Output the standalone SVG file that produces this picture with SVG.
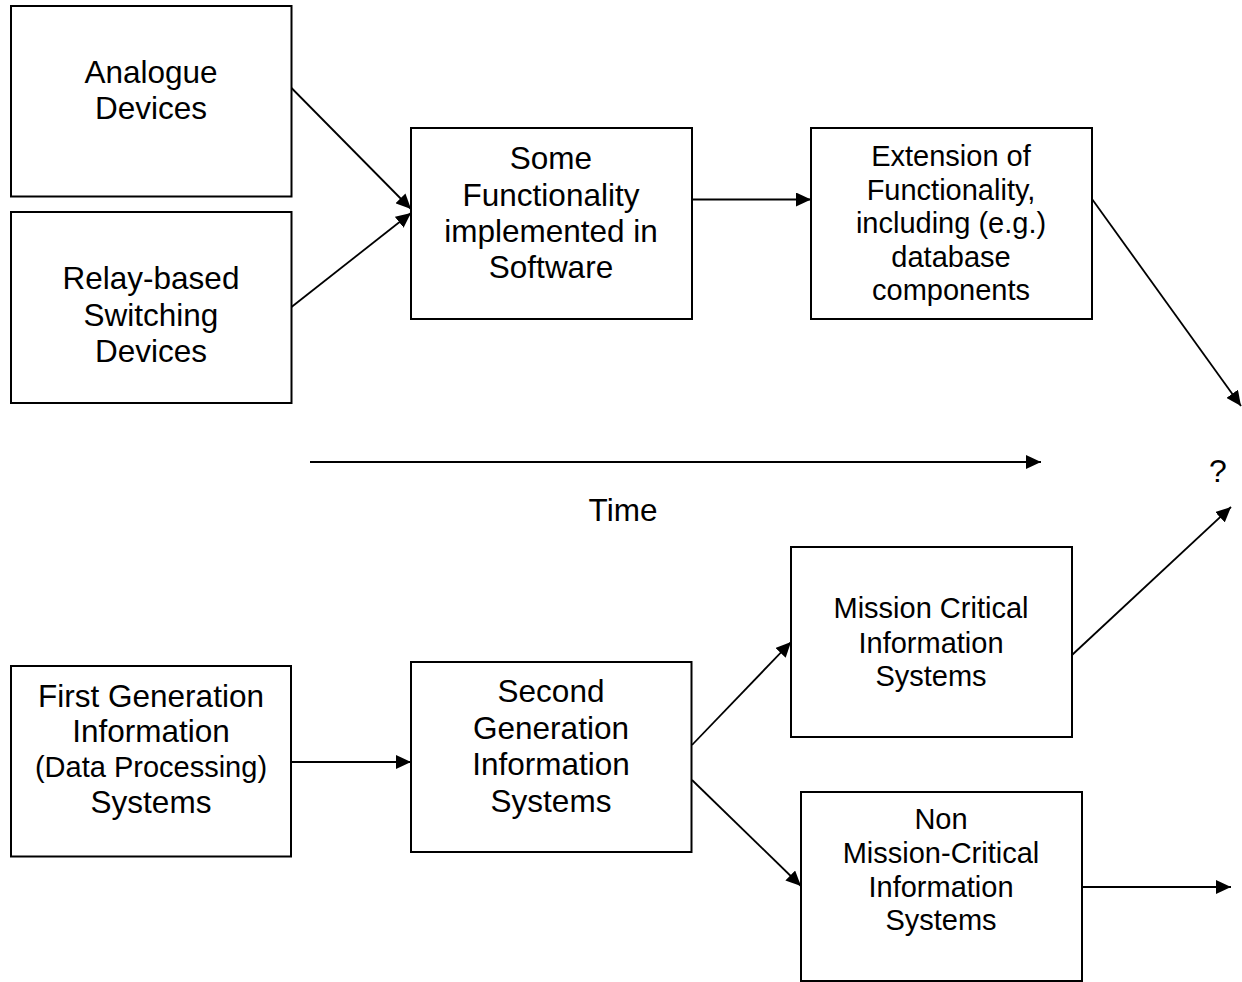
<svg xmlns="http://www.w3.org/2000/svg" width="1242" height="982" viewBox="0 0 1242 982">
<style>
.box{fill:#fff;stroke:#000;stroke-width:2}
.t{font-family:"Liberation Sans",Arial,sans-serif;font-size:31.5px;fill:#000;text-anchor:middle}
.s{font-size:29px}
.c{stroke:#000;stroke-width:1.8;fill:none;marker-end:url(#ah)}
</style>
<defs>
<marker id="ah" viewBox="0 0 15 14" refX="15" refY="7" markerWidth="15" markerHeight="14" markerUnits="userSpaceOnUse" orient="auto">
<path d="M0,0 L15,7 L0,14 z" fill="#000"/>
</marker>
</defs>
<rect width="1242" height="982" fill="#fff"/>
<g id="connectors">
<line class="c" x1="291.5" y1="88" x2="411" y2="209"/>
<line class="c" x1="291.5" y1="307" x2="411" y2="213"/>
<line class="c" x1="692" y1="199.5" x2="811" y2="199.5"/>
<line class="c" x1="1092" y1="199" x2="1241" y2="406"/>
<line class="c" x1="310" y1="462" x2="1041" y2="462"/>
<line class="c" x1="1072" y1="655" x2="1231" y2="507"/>
<line class="c" x1="692" y1="745" x2="791" y2="642"/>
<line class="c" x1="692" y1="780" x2="801" y2="886"/>
<line class="c" x1="291" y1="762" x2="411" y2="762"/>
<line class="c" x1="1082" y1="887" x2="1231" y2="887"/>
</g>
<g id="analogue">
<rect class="box" x="11" y="6" width="280.5" height="190.5"/>
<text class="t" x="151" y="83">Analogue</text>
<text class="t" x="151" y="119">Devices</text>
</g>
<g id="relay">
<rect class="box" x="11" y="212" width="280.5" height="191"/>
<text class="t" x="151" y="289">Relay-based</text>
<text class="t" x="151" y="326">Switching</text>
<text class="t" x="151" y="362">Devices</text>
</g>
<g id="some">
<rect class="box" x="411" y="128" width="281" height="191"/>
<text class="t" x="551" y="169">Some</text>
<text class="t" x="551" y="206">Functionality</text>
<text class="t" x="551" y="242">implemented in</text>
<text class="t" x="551" y="278">Software</text>
</g>
<g id="extension">
<rect class="box" x="811" y="128" width="281" height="191"/>
<text class="t s" x="951" y="165.5">Extension of</text>
<text class="t s" x="951" y="200">Functionality,</text>
<text class="t s" x="951" y="233">including (e.g.)</text>
<text class="t s" x="951" y="267">database</text>
<text class="t s" x="951" y="300">components</text>
</g>
<g id="time">
<text class="t" x="623" y="521">Time</text>
</g>
<g id="question">
<text class="t" x="1218" y="482" style="font-size:32px">?</text>
</g>
<g id="first">
<rect class="box" x="11" y="666" width="280" height="190.5"/>
<text class="t" x="151" y="707">First Generation</text>
<text class="t" x="151" y="742">Information</text>
<text class="t s" x="151" y="777">(Data Processing)</text>
<text class="t" x="151" y="813">Systems</text>
</g>
<g id="second">
<rect class="box" x="411" y="662" width="280.5" height="190"/>
<text class="t" x="551" y="702">Second</text>
<text class="t" x="551" y="738.5">Generation</text>
<text class="t" x="551" y="775">Information</text>
<text class="t" x="551" y="812">Systems</text>
</g>
<g id="mission">
<rect class="box" x="791" y="547" width="281" height="190"/>
<text class="t s" x="931" y="618">Mission Critical</text>
<text class="t s" x="931" y="652.5">Information</text>
<text class="t s" x="931" y="686">Systems</text>
</g>
<g id="nonmission">
<rect class="box" x="801" y="792" width="281" height="189"/>
<text class="t s" x="941" y="829">Non</text>
<text class="t s" x="941" y="863">Mission-Critical</text>
<text class="t s" x="941" y="897">Information</text>
<text class="t s" x="941" y="930">Systems</text>
</g>
</svg>
